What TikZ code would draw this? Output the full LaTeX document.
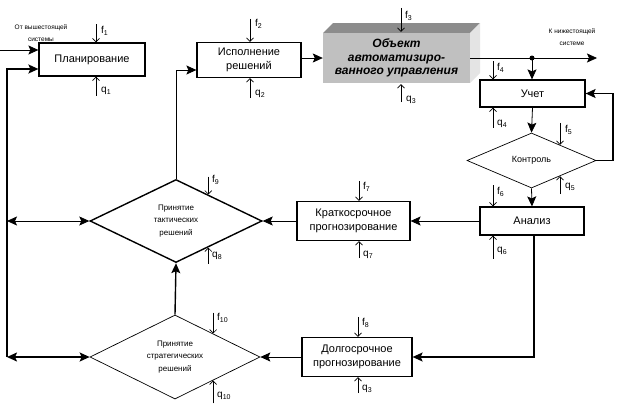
\documentclass[tikz,border=0pt]{standalone}
\usepackage{fontspec}
\setmainfont{Liberation Sans}
\usetikzlibrary{arrows.meta,shapes.geometric,calc}
\definecolor{objfront}{HTML}{C0C0C0}
\definecolor{objtop}{HTML}{8C8C8C}
\definecolor{objside}{HTML}{E4E4E4}
\begin{document}
\begin{tikzpicture}[x=1pt,y=-1pt,
  box/.style={draw,line width=1.2pt,inner sep=1pt,align=center,font=\fontsize{11}{14.5}\selectfont},
  dia/.style={draw,diamond,inner sep=0pt,aspect=2,align=center},
  con/.style={line width=0.8pt,-{Stealth[length=10pt,width=9pt,inset=2pt]}},
  contwo/.style={line width=0.8pt,{Stealth[length=10pt,width=9pt,inset=2pt]}-{Stealth[length=10pt,width=9pt,inset=2pt]}},
  fq/.style={line width=0.7pt,-{Straight Barb[length=3.5pt,width=7pt]}},
  lbl/.style={anchor=west,inner sep=0pt,font=\fontsize{10}{10}\selectfont},
  note/.style={inner sep=0pt,align=center,font=\fontsize{6.5}{11.5}\selectfont}
]
\useasboundingbox (0,0) rectangle (618,410);
\fill[white] (0,0) rectangle (618,410);

% boxes
\node[box,minimum width=106,minimum height=33] (plan) at (92,59.5) {Планирование};
\node[box,minimum width=104,minimum height=35] (isp) at (249,60) {Исполнение\\решений};

\fill[objtop] (323,33) -- (333,23) -- (480,23) -- (470,33) -- cycle;
\fill[objside] (470,33) -- (480,23) -- (480,73) -- (470,83) -- cycle;
\node[fill=objfront,minimum width=147,minimum height=50,inner sep=0pt,align=center,
      font=\bfseries\itshape\fontsize{12}{13.5}\selectfont] (obj) at (396.5,58)
      {Объект\\автоматизиро-\\ванного управления};

\node[box,minimum width=105,minimum height=27] (uch) at (532.5,93.5) {Учет};
\node[dia,line width=0.7pt,minimum width=129,minimum height=55,font=\fontsize{9}{9}\selectfont] (kon) at (531.5,160.5) {Контроль};
\node[box,minimum width=104,minimum height=28] (an) at (532,221) {Анализ};
\node[box,minimum width=113,minimum height=39] (kr) at (353.5,221) {Краткосрочное\\прогнозирование};
\node[box,minimum width=110,minimum height=39] (dl) at (357,357) {Долгосрочное\\прогнозирование};
\node[dia,line width=1.4pt,minimum width=172,minimum height=83,font=\fontsize{8}{12.5}\selectfont] (tac) at (176,221) {Принятие\\тактических\\решений};
\node[dia,line width=0.7pt,minimum width=170,minimum height=84,font=\fontsize{8}{12.5}\selectfont] (str) at (175,357) {Принятие\\стратегических\\решений};

% notes
\node[note] (nin) at (41,33) {От вышестоящей\\системы};
\node[note] (nout) at (572,37) {К нижестоящей\\системе};

% connectors
\coordinate (in1) at (0,50);
\draw[con] (in1) -- (in1 -| plan.west);
\coordinate (bt) at (7,69);
\coordinate (bb) at (7,357);
\draw[con,line width=1.6pt] (bb) -- (bt) -- (bt -| plan.west);
\draw[contwo] (tac.west -| bt) -- (tac.west);
\draw[contwo,line width=1.6pt] (bb) -- (str.west);

\coordinate (c1) at (176,70);
\draw[con] (tac.north) -- (c1) -- (c1 -| isp.west);
\draw[con] (isp.east |- obj.west) -- (obj.west);
\coordinate (out) at (597,58);
\coordinate (jn) at (532,58);
\draw[con] (obj.east) -- (out);
\fill (jn) circle (2.5);
\draw[con] (jn) -- (jn |- uch.north);
\draw[con] (uch.south) -- (kon.north);
\draw[con] (kon.south) -- (an.north);
\coordinate (fb1) at (613,160.5);
\coordinate (fb2) at (613,93.5);
\draw[con,line width=1.4pt] (kon.east) -- (fb1) -- (fb2) -- (uch.east);
\draw[con] (an.west) -- (an.west -| kr.east);
\draw[con] (kr.west) -- (tac.east);
\coordinate (c2) at ($(an.south)+(2,0)$);
\draw[con,line width=1.4pt] (c2) -- (c2 |- dl.east) -- (dl.east);
\draw[con] (dl.west) -- (str.east);
\draw[con,line width=1.4pt] (str.north) -- (tac.south);

% disturbances f and q
\draw[fq] ($(plan.north)+(4,-18)$) -- ($(plan.north)+(4,0)$);
\draw[fq] ($(plan.south)+(4,19)$) -- ($(plan.south)+(4,0)$);
\draw[fq] ($(isp.north)+(1,-23)$) -- ($(isp.north)+(1,0)$);
\draw[fq] ($(isp.south)+(1,20)$) -- ($(isp.south)+(1,0)$);
\draw[fq] ($(obj.north)+(4.5,-25)$) -- ($(obj.north)+(4.5,-1)$);
\draw[fq] ($(obj.south)+(4.5,19)$) -- ($(obj.south)+(4.5,1)$);
\draw[fq] ($(uch.north)+(-39.5,-18)$) -- ($(uch.north)+(-39.5,0)$);
\draw[fq] ($(uch.south)+(-39.5,20)$) -- ($(uch.south)+(-39.5,0)$);
\draw[fq] ($(kon.north)!0.44!(kon.east)+(0,-22)$) -- ($(kon.north)!0.44!(kon.east)$);
\draw[fq] ($(kon.south)!0.44!(kon.east)+(0,18)$) -- ($(kon.south)!0.44!(kon.east)$);
\draw[fq] ($(an.north)+(-39,-21)$) -- ($(an.north)+(-39,0)$);
\draw[fq] ($(an.south)+(-39,23)$) -- ($(an.south)+(-39,0)$);
\draw[fq] ($(kr.north)+(5.5,-20)$) -- ($(kr.north)+(5.5,0)$);
\draw[fq] ($(kr.south)+(5.5,17)$) -- ($(kr.south)+(5.5,0)$);
\draw[fq] ($(dl.north)+(1,-20)$) -- ($(dl.north)+(1,0)$);
\draw[fq] ($(dl.south)+(1,16)$) -- ($(dl.south)+(1,0)$);
\draw[fq] ($(tac.north)!0.372!(tac.east)+(0,-18)$) -- ($(tac.north)!0.372!(tac.east)$);
\draw[fq] ($(tac.south)!0.372!(tac.east)+(0,16)$) -- ($(tac.south)!0.372!(tac.east)$);
\draw[fq] ($(str.north)!0.447!(str.east)+(0,-21)$) -- ($(str.north)!0.447!(str.east)$);
\draw[fq] ($(str.south)!0.447!(str.east)+(0,23)$) -- ($(str.south)!0.447!(str.east)$);

% labels
\node[lbl] (lf1) at (101,31) {f\textsubscript{1}};
\node[lbl] (lq1) at (101,91) {q\textsubscript{1}};
\node[lbl] (lf2) at (255,24) {f\textsubscript{2}};
\node[lbl] (lq2) at (255,94) {q\textsubscript{2}};
\node[lbl] (lf3) at (405,16) {f\textsubscript{3}};
\node[lbl] (lq3) at (406,100) {q\textsubscript{3}};
\node[lbl] (lf4) at (497,68) {f\textsubscript{4}};
\node[lbl] (lq4) at (497,124) {q\textsubscript{4}};
\node[lbl] (lf5) at (565,130) {f\textsubscript{5}};
\node[lbl] (lq5) at (565,187) {q\textsubscript{5}};
\node[lbl] (lf6) at (497,192) {f\textsubscript{6}};
\node[lbl] (lq6) at (497,251) {q\textsubscript{6}};
\node[lbl] (lf7) at (363,187) {f\textsubscript{7}};
\node[lbl] (lq7) at (363,255) {q\textsubscript{7}};
\node[lbl] (lf8) at (362,323) {f\textsubscript{8}};
\node[lbl] (lq9) at (362,389) {q\textsubscript{3}};
\node[lbl] (lf9) at (212,180) {f\textsubscript{9}};
\node[lbl] (lq8) at (212,256) {q\textsubscript{8}};
\node[lbl] (lf10) at (217,318) {f\textsubscript{10}};
\node[lbl] (lq10) at (217,396) {q\textsubscript{10}};
\end{tikzpicture}
\end{document}
